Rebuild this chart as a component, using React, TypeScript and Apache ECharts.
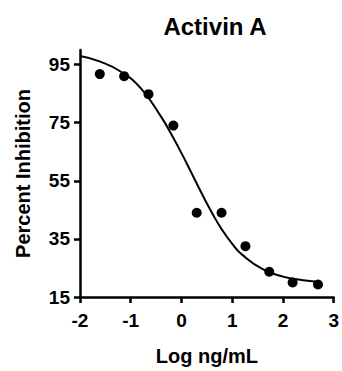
import React, { useEffect, useRef } from "react";
import * as echarts from "echarts";

const title = "Activin A";
const xAxisName = "Log ng/mL";
const yAxisName = "Percent Inhibition";
const yTickValues = [15, 35, 55, 75, 95];

// measured points (log ng/mL, % inhibition)
const pointX = [-1.61, -1.13, -0.65, -0.16, 0.3, 0.79, 1.26, 1.73, 2.19, 2.69];
const pointY = [91.7, 91.0, 84.8, 74.0, 44.0, 44.0, 32.5, 23.7, 20.0, 19.3];

// fitted curve
const curveX = [-2.0, -1.6, -1.2, -0.8, -0.4, -0.2, 0.0, 0.2, 0.4, 0.6, 0.8, 1.0, 1.2, 1.6, 2.0, 2.4, 2.75];
const curveY = [97.9, 96.0, 92.6, 86.8, 77.0, 71.0, 64.5, 57.6, 50.6, 44.0, 38.1, 33.3, 29.5, 24.6, 22.0, 20.8, 20.2];

const FONT = "'Liberation Sans', Arial, sans-serif";

export default function App() {
  const ref = useRef<HTMLDivElement>(null);
  useEffect(() => {
    if (!ref.current) return;
    const chart = echarts.init(ref.current, null, { renderer: "svg" });
    chart.setOption({
      animation: false,
      backgroundColor: "#ffffff",
      title: {
        text: title,
        left: 210,
        textAlign: "center",
        top: 9,
        textStyle: { fontFamily: FONT, fontWeight: "bold", fontSize: 24, color: "#000" },
      },
      grid: { left: 80, right: 4, top: 50, bottom: 64, containLabel: false },
      xAxis: {
        type: "value",
        min: -2,
        max: 3,
        interval: 1,
        name: xAxisName,
        nameLocation: "middle",
        nameGap: 49,
        nameTextStyle: { fontFamily: FONT, fontWeight: "bold", fontSize: 20, color: "#000" },
        axisLine: { show: true, onZero: false, lineStyle: { color: "#000", width: 2.5 } },
        axisTick: { show: true, inside: false, length: 6, lineStyle: { color: "#000", width: 2.5 } },
        axisLabel: { fontFamily: FONT, fontWeight: "bold", fontSize: 19, color: "#000", margin: 14 },
        splitLine: { show: false },
      },
      yAxis: {
        type: "value",
        min: 15,
        max: 100,
        name: yAxisName,
        nameLocation: "middle",
        nameGap: 47,
        nameTextStyle: { fontFamily: FONT, fontWeight: "bold", fontSize: 20, color: "#000" },
        axisLine: { show: true, onZero: false, lineStyle: { color: "#000", width: 2.5 } },
        axisTick: { show: true, inside: false, length: 6, customValues: yTickValues, lineStyle: { color: "#000", width: 2.5 } },
        axisLabel: { fontFamily: FONT, fontWeight: "bold", fontSize: 19, color: "#000", margin: 10, customValues: yTickValues },
        splitLine: { show: false },
      },
      series: [
        {
          type: "line",
          data: curveX.map((x, i) => [x, curveY[i]]),
          smooth: true,
          showSymbol: false,
          symbol: "none",
          lineStyle: { color: "#000", width: 2 },
          z: 2,
        },
        {
          type: "scatter",
          data: pointX.map((x, i) => [x, pointY[i]]),
          symbol: "circle",
          symbolSize: 10,
          itemStyle: { color: "#000", opacity: 1 },
          z: 3,
        },
      ],
    });
    return () => chart.dispose();
  }, []);
  return <div ref={ref} style={{ position: "absolute", left: 0, top: 0, width: 342, height: 371 }} />;
}
